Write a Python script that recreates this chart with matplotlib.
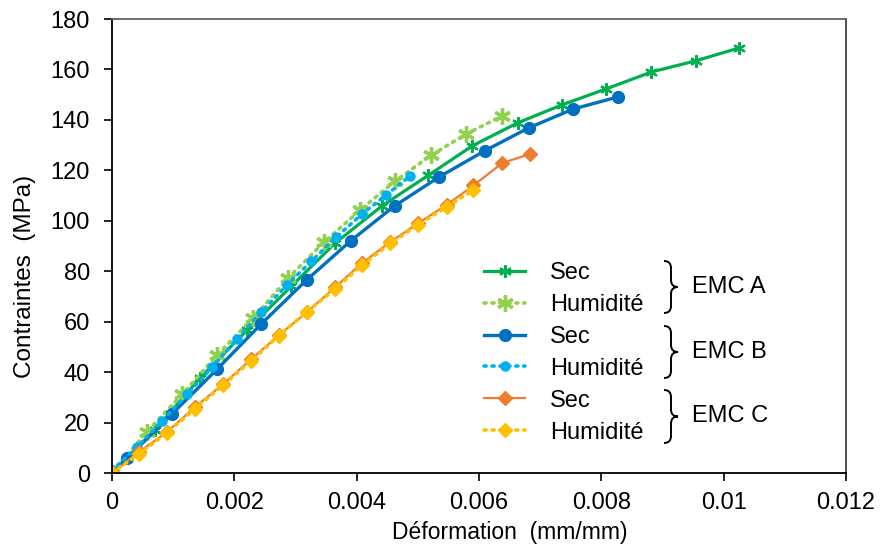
import matplotlib
matplotlib.use('Agg')
from matplotlib import pyplot as plt, rcParams
from matplotlib.path import Path
from matplotlib.patches import PathPatch
from matplotlib.ticker import FuncFormatter, MultipleLocator

rcParams['font.family'] = ['Liberation Sans', 'DejaVu Sans']
rcParams['font.size'] = 17

# EMC A
a_sec_x = [0, 0.0007, 0.00144, 0.00221, 0.00293, 0.00365, 0.00442, 0.00517,
           0.00589, 0.00663, 0.00736, 0.00808, 0.00882, 0.00954, 0.01025]
a_sec_y = [0, 17, 37.7, 56.7, 74, 91.2, 106, 118, 129.7, 138.8, 146, 152.3,
           159, 163.4, 168.5]
a_hum_x = [0, 0.00057, 0.00115, 0.00172, 0.00231, 0.00288, 0.00347, 0.00406,
           0.00463, 0.00522, 0.00579, 0.00638]
a_hum_y = [0, 16.3, 31.3, 46.8, 61.5, 77.3, 91.6, 104.3, 115.8, 126, 134.4, 141.6]

# EMC B
b_sec_x = [0, 0.00025, 0.00098, 0.00172, 0.00244, 0.00318, 0.0039, 0.00462,
           0.00535, 0.00609, 0.00681, 0.00754, 0.00827]
b_sec_y = [0, 5.9, 23.4, 41.2, 59.1, 76.5, 92, 105.9, 117.4, 127.7, 136.8, 144.3, 149.1]
b_hum_x = [0, 0.00041, 0.00082, 0.00123, 0.00164, 0.00204, 0.00244, 0.00286,
           0.00326, 0.00367, 0.00409, 0.00448, 0.00488]
b_hum_y = [1, 10.3, 20.6, 31.3, 42, 53.1, 63.8, 74.5, 84, 93.6, 102.7, 110.2, 117.8]

# EMC C
c_sec_x = [0, 0.00044, 0.0009, 0.00136, 0.00182, 0.00228, 0.00273, 0.00319,
           0.00365, 0.00409, 0.00455, 0.00501, 0.00547, 0.00591, 0.00638, 0.00684]
c_sec_y = [0, 8.3, 16.3, 26.2, 35.3, 45.2, 54.7, 63.8, 73.7, 83.3, 91.6, 99.1,
           106.3, 114, 122.9, 126.5]
c_hum_x = [0, 0.00044, 0.0009, 0.00136, 0.00182, 0.00228, 0.00273, 0.00319,
           0.00365, 0.00409, 0.00455, 0.00501, 0.00547, 0.00591]
c_hum_y = [0, 7.5, 16, 25.5, 35, 44.5, 54.5, 64, 73, 82.5, 91, 98.5, 105.5, 112.2]

groups = ['EMC A', 'EMC B', 'EMC C']

W, H = 880, 550
fig = plt.figure(figsize=(W / 100, H / 100), dpi=100)
ax = fig.add_axes([112 / W, 1 - 473 / H, (846 - 112) / W, (473 - 19) / H])

star = (6, 2, 0)
dot = (0, (0.6, 1.6))

ax.plot(a_sec_x, a_sec_y, color='#00B050', lw=2.3, marker=star, ms=9, mew=1.6,
        label='Sec')
ax.plot(a_hum_x, a_hum_y, color='#92D050', lw=2.6, ls=dot, dash_capstyle='round',
        marker=star, ms=12, mew=2.4, label='Humidité')
ax.plot(b_sec_x, b_sec_y, color='#0070C0', lw=2.4, marker='o', ms=8.5,
        label='Sec')
ax.plot(b_hum_x, b_hum_y, color='#00B0F0', lw=2.6, ls=dot, dash_capstyle='round',
        marker='o', ms=6.5, label='Humidité')
ax.plot(c_sec_x, c_sec_y, color='#ED7D31', lw=1.6, marker='D', ms=7,
        label='Sec')
ax.plot(c_hum_x, c_hum_y, color='#FFC000', lw=2.6, ls=dot, dash_capstyle='round',
        marker='D', ms=7, label='Humidité')

ax.set_xlim(0, 0.012)
ax.set_ylim(0, 180)
ax.xaxis.set_major_locator(MultipleLocator(0.002))
ax.yaxis.set_major_locator(MultipleLocator(20))
ax.xaxis.set_major_formatter(FuncFormatter(lambda v, p: '%g' % round(v, 6)))
ax.tick_params(direction='out', length=6, width=1.2, labelsize=17,
               colors='#000000')
ax.tick_params(axis='y', pad=10)
ax.tick_params(axis='x', pad=8)
for s in ['left', 'bottom']:
    ax.spines[s].set_color('#000000')
    ax.spines[s].set_linewidth(1.3)
ax.spines['right'].set_color('#404040')
ax.spines['top'].set_color('#606060')
ax.spines['right'].set_linewidth(1.3)
ax.spines['top'].set_linewidth(1.3)

fig.text(510 / W, 1 - 533 / H, 'Déformation  (mm/mm)', fontsize=16.5,
         ha='center', va='center')
fig.text(25 / W, 1 - 276 / H, 'Contraintes  (MPa)', fontsize=17.5,
         rotation=90, ha='center', va='center')

leg = ax.legend(loc='upper left', bbox_to_anchor=(484 / W, 1 - 262 / H),
                bbox_transform=fig.transFigure, frameon=False, fontsize=17,
                handlelength=1.75, handletextpad=1.05, labelspacing=0.42,
                borderpad=0, borderaxespad=0)


def brace(x0, top, bottom, w=14):
    # right-facing curly brace, pixel coords (y down)
    mid = (top + bottom) / 2
    xm = x0 + w / 2
    r = 7
    pts = [(x0, top), (xm, top), (xm, top + r),
           (xm, mid - r), (xm, mid), (x0 + w, mid),
           (xm, mid), (xm, mid + r),
           (xm, bottom - r), (xm, bottom), (x0, bottom)]
    codes = [Path.MOVETO, Path.CURVE3, Path.CURVE3,
             Path.LINETO, Path.CURVE3, Path.CURVE3,
             Path.CURVE3, Path.CURVE3,
             Path.LINETO, Path.CURVE3, Path.CURVE3]
    verts = [(x / W, 1 - y / H) for x, y in pts]
    fig.add_artist(PathPatch(Path(verts, codes), fill=False, lw=1.4,
                             edgecolor='#000000', transform=fig.transFigure))
    return mid


for g, (top, bottom) in zip(groups, [(261, 313), (326, 378), (390, 443)]):
    mid = brace(664, top, bottom)
    fig.text(692 / W, 1 - mid / H, g, fontsize=17, va='center', ha='left')

fig.savefig('out.png', dpi=100)
